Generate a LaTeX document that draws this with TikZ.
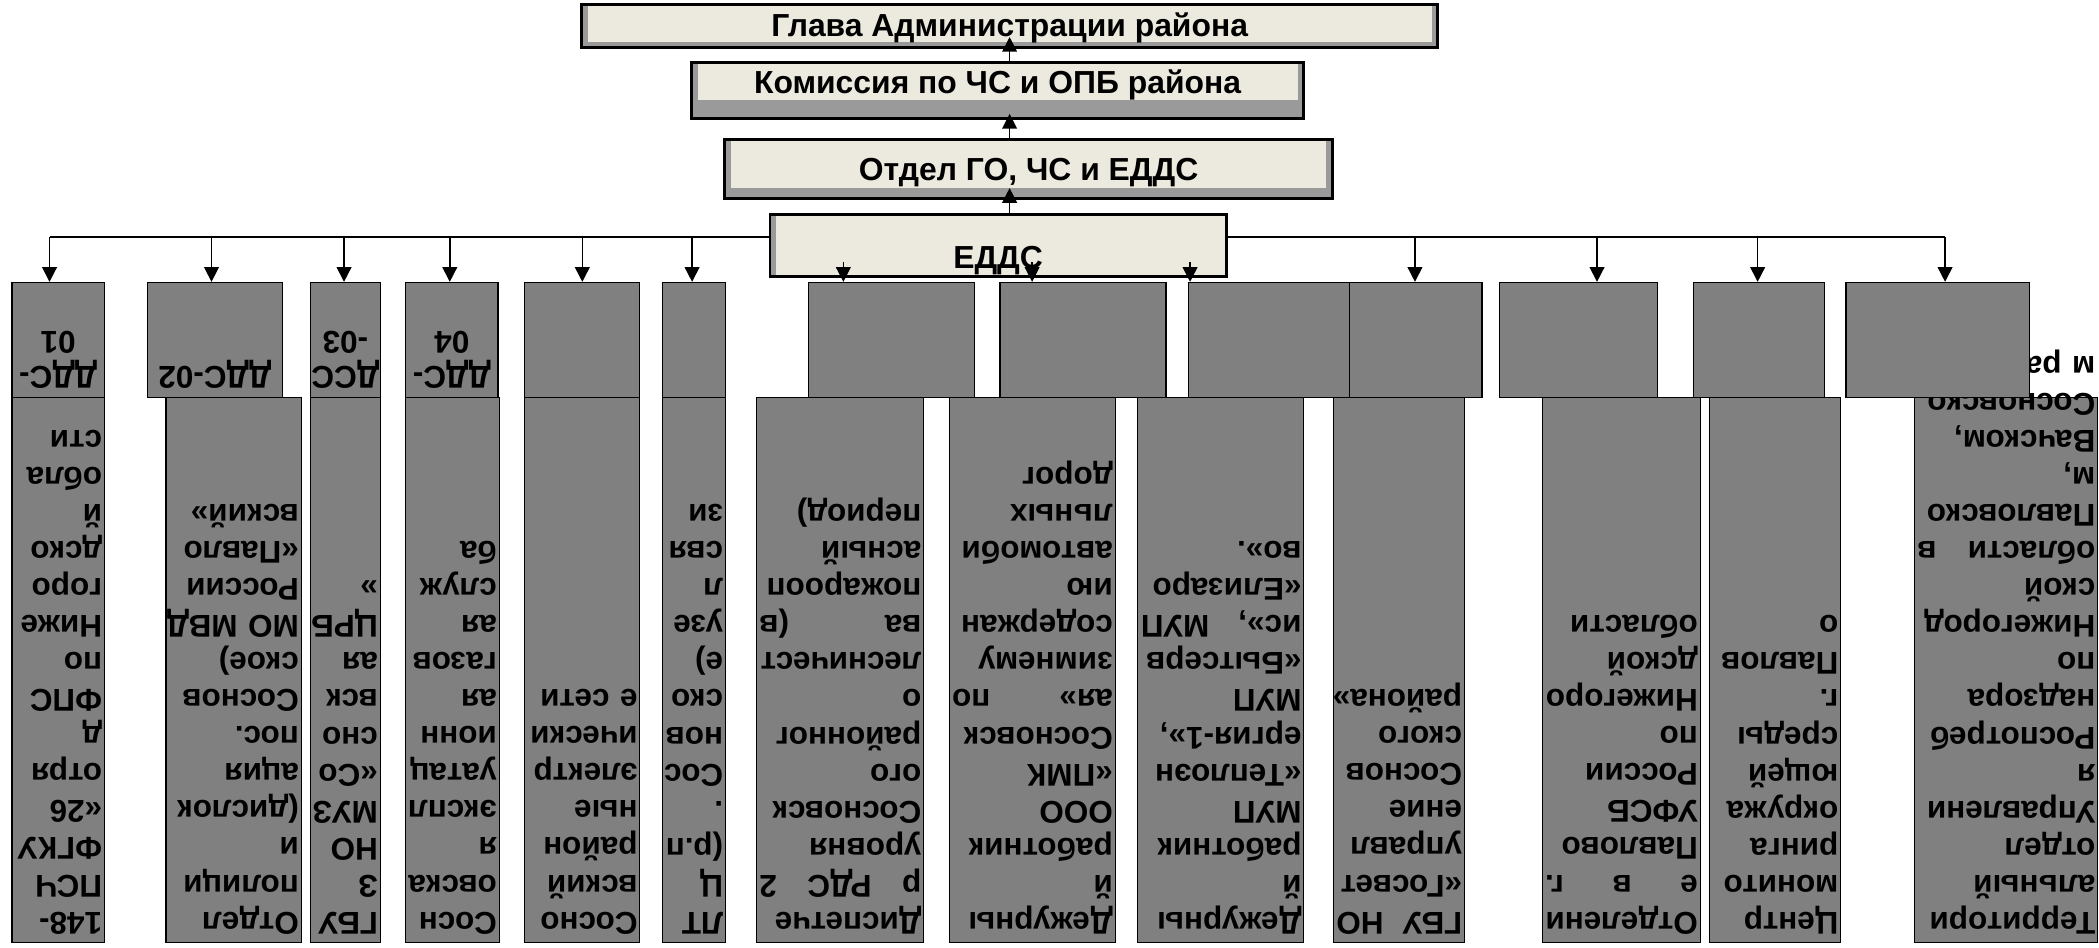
\documentclass[tikz,border=0pt]{standalone}
\usepackage{fontspec}
\setmainfont{Liberation Sans}
\usetikzlibrary{arrows.meta,calc}
\hyphenpenalty=10000
\exhyphenpenalty=10000

\definecolor{beige}{HTML}{ECE9DE}
\definecolor{bandgray}{HTML}{9A9A9A}
\definecolor{cellgray}{HTML}{808080}

\tikzset{
  headbox/.style n args={3}{draw, line width=2.2pt, fill=bandgray, inner sep=0pt,
    path picture={\fill[beige] ([xshift=#1]path picture bounding box.north west)
      rectangle ([xshift=-#2,yshift=#3]path picture bounding box.south east);}},
  headtext/.style={font=\fontsize{23.8}{26}\selectfont\bfseries, inner sep=0pt, anchor=base},
  cell/.style={draw, line width=0.9pt, fill=cellgray, inner sep=0pt},
  celltext/.style={rotate=180, anchor=north west, align=left, inner xsep=2pt, inner ysep=6.5pt,
    font=\fontsize{23.5}{27.7}\selectfont\bfseries},
  tagtext/.style={rotate=180, anchor=north, align=center, inner sep=0pt,
    font=\fontsize{23.5}{26}\selectfont\bfseries},
  link/.style={line width=1.2pt, -{Triangle[length=11pt,width=11pt]}},
  bus/.style={line width=1.2pt},
}

\begin{document}
\begin{tikzpicture}[x=1pt, y=-1pt]
  \useasboundingbox (0,0) rectangle (1568,708);

  % lower row
  \foreach \n/\xa/\xb [evaluate=\xb as \w using \xb-\xa, evaluate=\xb as \xc using (\xa+\xb)/2]
    in {b1/9/78, b2/124/225, b3/232/284, b4/303/373, b5/392/478, b6/495/542, b7/565/690,
        b8/709/833, b9/850/974, b10/996/1094, b11/1152/1270, b12/1277/1375, b13/1430/1567} {
   \node[cell, minimum width=\w pt, minimum height=407pt] (\n) at (\xc,500.5) {};
  }

  \node[celltext, text width=65pt] (b1-t) at (b1.south east)
   {148-\\ПСЧ\\ФГКУ\\«26\\отря\\д\\ФПС\\по\\Ниже\\горо\\дско\\й\\обла\\сти};
  \node[celltext, text width=97pt] (b2-t) at (b2.south east)
   {Отдел\\полици\\и\\(дислок\\ация\\пос.\\Соснов\\ское)\\МО~МВД\\России\\«Павло\\вский»};
  \node[celltext, text width=48pt] (b3-t) at (b3.south east)
   {ГБУ\\З\\НО\\МУЗ\\«Со\\сно\\вск\\ая\\ЦРБ\\»};
  \node[celltext, text width=66pt] (b4-t) at (b4.south east)
   {Сосн\\овска\\я\\экспл\\уатац\\ионн\\ая\\газов\\ая\\служ\\ба};
  \node[celltext, text width=82pt] (b5-t) at (b5.south east)
   {Сосно\\вский\\район\\ные\\электр\\ически\\е~сети};
  \node[celltext, text width=43pt] (b6-t) at (b6.south east)
   {ЛТ\\Ц\\(р.п\\.\\Сос\\нов\\ско\\е)\\узе\\л\\свя\\зи};
  \node[celltext, text width=121pt] (b7-t) at (b7.south east)
   {Диспетче\\р\hfill РДС\hfill 2\\уровня\\Сосновск\\ого\\районног\\о\\лесничест\\ва\hfill (в\\пожарооп\\асный\\период)};
  \node[celltext, text width=120pt] (b8-t) at (b8.south east)
   {Дежурны\\й\\работник\\ООО\\«ПМК\\Сосновск\\ая»\hfill по\\зимнему\\содержан\\ию\\автомоби\\льных\\дорог};
  \node[celltext, text width=120pt] (b9-t) at (b9.south east)
   {Дежурны\\й\\работник\\МУП\\«Теплоэн\\ергия-1»,\\МУП\\«Бытсерв\\ис»,\hfill МУП\\«Елизаро\\во».};
  \node[celltext, text width=94pt] (b10-t) at (b10.south east)
   {ГБУ\hfill НО\\«Госвет\\управл\\ение\\Соснов\\ского\\района»};
  \node[celltext, text width=114pt] (b11-t) at (b11.south east)
   {Отделени\\е\hfill в\hfill г.\\Павлово\\УФСБ\\России\\по\\Нижегоро\\дской\\области};
  \node[celltext, text width=94pt] (b12-t) at (b12.south east)
   {Центр\\монито\\ринга\\окружа\\ющей\\среды\\г.\\Павлов\\о};
  \node[celltext, text width=133pt] (b13-t) at (b13.south east)
   {Территори\\альный\\отдел\\Управлени\\я\\Роспотреб\\надзора\\по\\Нижегород\\ской\\области\hfill в\\Павловско\\м,\\Вачском,\\Сосновско\\м~районах};

  % upper row
  \foreach \n/\xa/\xb [evaluate=\xb as \w using \xb-\xa, evaluate=\xb as \xc using (\xa+\xb)/2]
    in {t1/9/78, t2/110/211, t3/232/284, t4/303/372, t5/392/478, t6/495/542, t7/604/728,
        t8/747/871, t9/888/1008, t10/1008/1107, t11/1120/1238, t12/1265/1363, t13/1379/1516} {
   \node[cell, minimum width=\w pt, minimum height=86pt] (\n) at (\xc,254) {};
  }
  \node[tagtext] (t1-t) at ([yshift=7pt]t1.south) {ДДС-\\01};
  \node[tagtext] (t2-t) at ([yshift=7pt]t2.south) {ДДС-02};
  \node[tagtext] (t3-t) at ([yshift=7pt]t3.south) {ДСС\\-03};
  \node[tagtext] (t4-t) at ([yshift=7pt]t4.south) {ДДС-\\04};

  % heads
  \node[headbox={4.6pt}{4.6pt}{4pt}, minimum width=639.5pt, minimum height=32.5pt] (glava) at (754.2,19.3) {};
  \node[headbox={4.6pt}{4.6pt}{13.6pt}, minimum width=457.5pt, minimum height=42pt] (komis) at (745.2,67.6) {};
  \node[headbox={4.6pt}{4.6pt}{8pt}, minimum width=454pt, minimum height=44pt] (otdel) at (768.4,126.4) {};
  \node[headbox={4.6pt}{0pt}{0pt}, minimum width=340.8pt, minimum height=46pt] (edds) at (745.6,183.4) {};

  \node[headtext] (glava-t) at ($(glava.center)+(0,8)$) {Глава Администрации района};
  \node[headtext] (komis-t) at ($(komis.center)+(0,2)$) {Комиссия по ЧС и ОПБ района};
  \node[headtext] (otdel-t) at ($(otdel.center)+(0,8.6)$) {Отдел ГО, ЧС и ЕДДС};
  \node[headtext] (edds-t) at ($(edds.center)+(0,17)$) {ЕДДС};

  % bus
  \coordinate (busL) at (37,177);
  \coordinate (busR) at (1453,177);
  \draw[bus] (busL) -- (busL -| edds.west);
  \draw[bus] (busR -| edds.east) -- (busR);
  \foreach \n/\x/\y in {1/37/177, 2/158/177, 3/257/177, 4/336/177, 5/435/177, 6/517/177,
      7/630/196, 8/771/196, 9/889/196, 10/1057/177, 11/1193/177, 12/1313/177, 13/1453/177} {
   \coordinate (drop\n) at (\x,\y);
   \draw[link] (drop\n) -- (drop\n |- t\n.north);
  }

  \draw[link] (edds.north -| glava.center) -- ($(otdel.south -| glava.center)+(0,-9)$);
  \draw[link] (otdel.north -| glava.center) -- ($(komis.south -| glava.center)+(0,-4.6)$);
  \draw[link] (komis.north -| glava.center) -- ($(glava.south -| glava.center)+(0,-9)$);
 \end{tikzpicture}
\end{document}
